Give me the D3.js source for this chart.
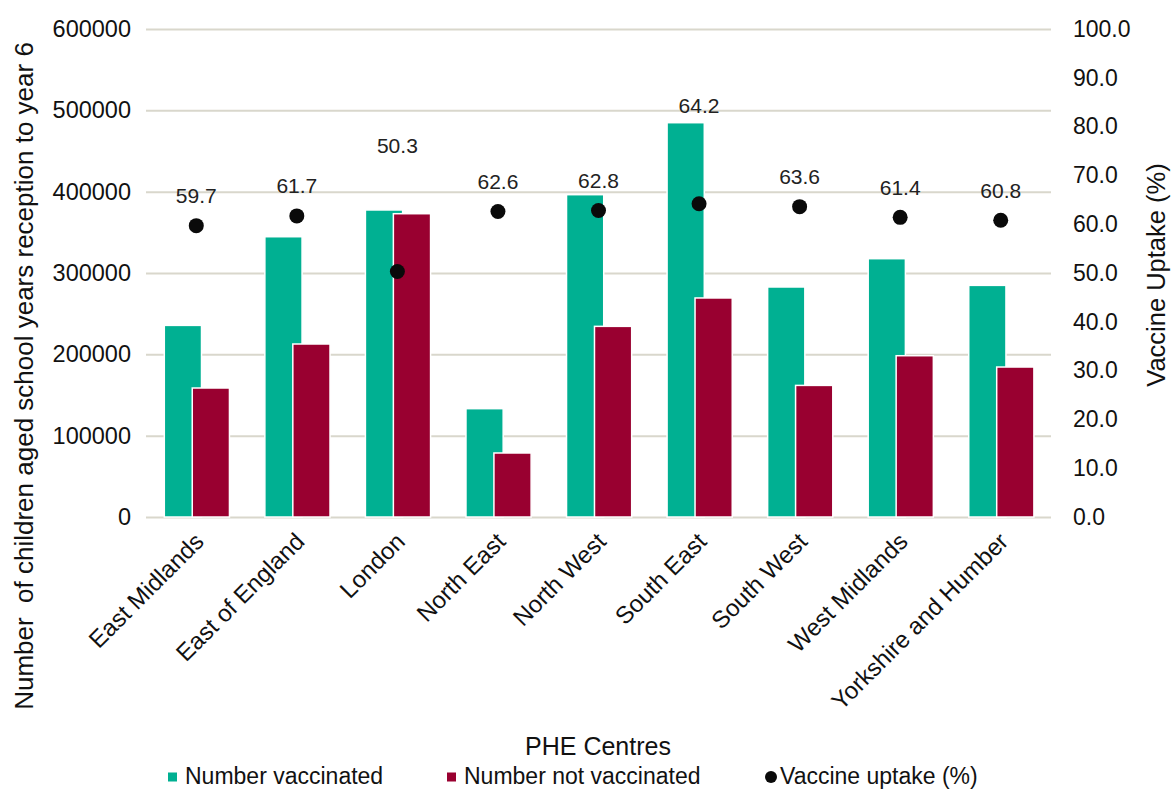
<!DOCTYPE html>
<html>
<head>
<meta charset="utf-8">
<script src="https://cdn.jsdelivr.net/npm/d3@7/dist/d3.min.js"></script>
<style>
  html, body { margin: 0; padding: 0; background: #fff; }
  svg { display: block; font-family: "Liberation Sans", Arial, sans-serif; }
  text { white-space: pre; }
</style>
</head>
<body>
<svg id="chart" width="1173" height="790"></svg>
<script>
// PHE centres and the childhood flu vaccination counts / uptake
const categories = ["East Midlands", "East of England", "London", "North East", "North West",
                    "South East", "South West", "West Midlands", "Yorkshire and Humber"];
const vaccinated    = [235600, 344600, 377500, 133200, 396300, 484800, 282800, 317600, 284800];
const notVaccinated = [158600, 212700, 372900, 78700, 234400, 269300, 161800, 198300, 184400];
const uptake        = [59.7, 61.7, 50.3, 62.6, 62.8, 64.2, 63.6, 61.4, 60.8];
const countTicks    = [0, 100000, 200000, 300000, 400000, 500000, 600000];
const uptakeTicks   = [0, 10, 20, 30, 40, 50, 60, 70, 80, 90, 100];
const seriesNames   = ["Number vaccinated", "Number not vaccinated", "Vaccine uptake (%)"];

const GREEN = "#00b092", RED = "#990030", DOT = "#0a0a0a", GRID = "#d9d7cc", INK = "#111";

const svg = d3.select("#chart");
const plot = { left: 146, right: 1051, top: 29, bottom: 517 };

const x = d3.scaleBand().domain(categories).range([plot.left, plot.right]).padding(0);
const y = d3.scaleLinear().domain([0, 600000]).range([plot.bottom, plot.top]);
const y2 = d3.scaleLinear().domain([0, 100]).range([plot.bottom, plot.top]);

// gridlines + left tick labels
const leftAxis = svg.append("g")
  .attr("transform", `translate(${plot.left},0)`)
  .call(d3.axisLeft(y).tickValues(countTicks).tickFormat(d3.format("d"))
        .tickSize(-(plot.right - plot.left)).tickPadding(15));
leftAxis.select(".domain").remove();
leftAxis.selectAll(".tick line").attr("stroke", GRID).attr("stroke-width", 2);
leftAxis.selectAll(".tick text").attr("fill", INK).style("font-size", "23.5px")
  .style("font-family", "Liberation Sans, Arial, sans-serif");

// right tick labels
const rightAxis = svg.append("g")
  .attr("transform", `translate(${plot.right},0)`)
  .call(d3.axisRight(y2).tickValues(uptakeTicks).tickFormat(d3.format(".1f"))
        .tickSize(0).tickPadding(22));
rightAxis.select(".domain").remove();
rightAxis.selectAll(".tick text").attr("fill", INK).style("font-size", "23px")
  .style("font-family", "Liberation Sans, Arial, sans-serif");

// bars
const bw = x.bandwidth();
const barW = bw * 0.37;
const center = d => x(d) + bw / 2;

svg.append("g").selectAll("rect")
  .data(categories)
  .join("rect")
  .attr("x", d => center(d) - bw * 0.318)
  .attr("y", (d, i) => y(vaccinated[i]))
  .attr("width", barW)
  .attr("height", (d, i) => y(0) - y(vaccinated[i]))
  .attr("fill", GREEN)
  .attr("stroke", "#fff").attr("stroke-width", 1.5);

svg.append("g").selectAll("rect")
  .data(categories)
  .join("rect")
  .attr("x", d => center(d) - bw * 0.04)
  .attr("y", (d, i) => y(notVaccinated[i]))
  .attr("width", barW)
  .attr("height", (d, i) => y(0) - y(notVaccinated[i]))
  .attr("fill", RED)
  .attr("stroke", "#fff").attr("stroke-width", 1.5);

// uptake markers
svg.append("g").selectAll("circle")
  .data(categories)
  .join("circle")
  .attr("cx", d => center(d))
  .attr("cy", (d, i) => y2(uptake[i]))
  .attr("r", 7.5)
  .attr("fill", DOT);

// uptake value labels; two of them sit higher to clear the bars
const labelRaise = { "London": 126, "South East": 98 };
svg.append("g").selectAll("text")
  .data(categories)
  .join("text")
  .attr("x", d => center(d))
  .attr("y", (d, i) => y2(uptake[i]) - (labelRaise[d] || 30))
  .attr("dy", "0.35em")
  .attr("text-anchor", "middle")
  .attr("fill", "#222")
  .style("font-size", "21px")
  .text((d, i) => d3.format(".1f")(uptake[i]));

// category labels, angled
svg.append("g").selectAll("text")
  .data(categories)
  .join("text")
  .attr("transform", d => `translate(${center(d) + 9},${543}) rotate(-45)`)
  .attr("text-anchor", "end")
  .attr("fill", INK)
  .style("font-size", "24px")
  .text(d => d);

// axis titles
svg.append("text")
  .attr("transform", "translate(33,376) rotate(-90)")
  .attr("text-anchor", "middle")
  .attr("fill", INK)
  .style("font-size", "26px")
  .text("Number  of children aged school years reception to year 6");

svg.append("text")
  .attr("transform", "translate(1165,275) rotate(-90)")
  .attr("text-anchor", "middle")
  .attr("fill", INK)
  .style("font-size", "25.5px")
  .text("Vaccine Uptake (%)");

svg.append("text")
  .attr("x", 598).attr("y", 755)
  .attr("text-anchor", "middle")
  .attr("fill", INK)
  .style("font-size", "25px")
  .text("PHE Centres");

// legend
const legend = svg.append("g");
const legendX = [168, 447, 765];
const legendColors = [GREEN, RED, DOT];
seriesNames.forEach((name, i) => {
  const g = legend.append("g").attr("transform", `translate(${legendX[i]},777)`);
  if (i < 2) {
    g.append("rect").attr("x", 0).attr("y", -4.5).attr("width", 9).attr("height", 9)
      .attr("fill", legendColors[i]);
  } else {
    g.append("circle").attr("cx", 6).attr("cy", 0).attr("r", 6).attr("fill", legendColors[i]);
  }
  g.append("text")
    .attr("x", i < 2 ? 17 : 15).attr("y", 7)
    .attr("fill", INK)
    .style("font-size", "23px")
    .text(name);
});
</script>
</body>
</html>
